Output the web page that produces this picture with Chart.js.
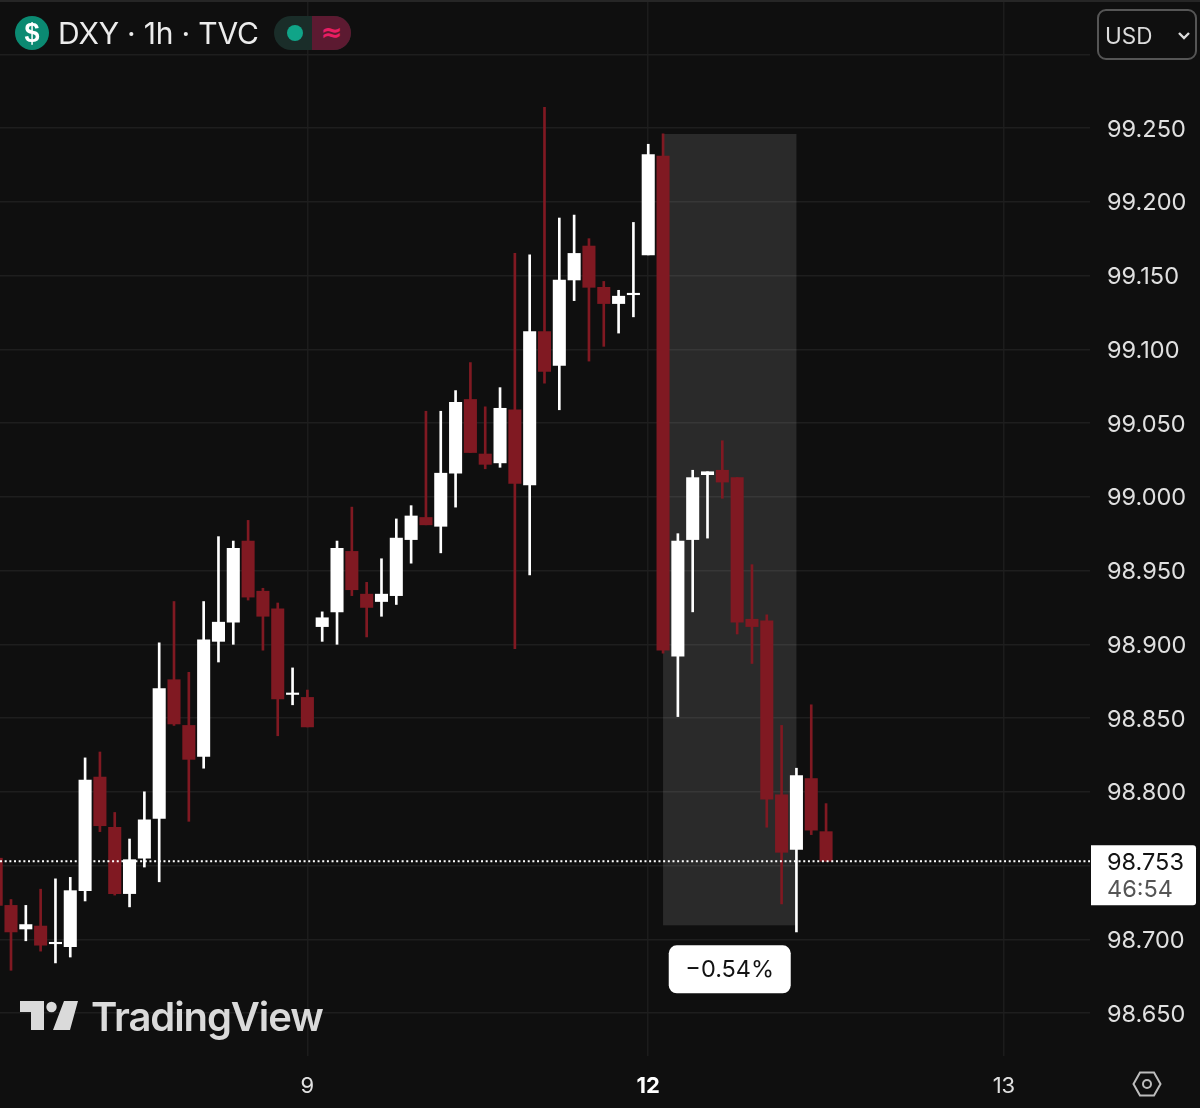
<!DOCTYPE html>
<html>
<head>
<meta charset="utf-8">
<title>DXY 1h TVC</title>
<script src="https://cdn.jsdelivr.net/npm/chart.js@4"></script>
<style>
  html, body { margin: 0; padding: 0; background: #0f0f0f; }
  #wrap { position: relative; width: 1200px; height: 1108px; overflow: hidden; font-family: Inter, sans-serif; }
  #wrap > * { position: absolute; }
  #topline { left: 0; top: 0; width: 1200px; height: 2px; background: #262626; }
  #coin { left: 15px; top: 16px; width: 34px; height: 34px; border-radius: 50%; background: #0b8a72; color: #fff; font: 700 27px/34px "Liberation Sans", sans-serif; text-align: center; }
  #title { left: 58px; top: 15px; font-size: 30px; line-height: 36px; color: #ececec; white-space: nowrap; letter-spacing: -0.2px; }
  #pill { left: 274px; top: 16px; width: 77px; height: 34px; border-radius: 17px; overflow: hidden; background: #1a2d29; }
  #pill .dot { position: absolute; left: 13px; top: 9px; width: 16px; height: 16px; border-radius: 50%; background: #10a488; }
  #pill .red { position: absolute; left: 38px; top: 0; width: 39px; height: 34px; background: #5c1a31; color: #e91e63; font: 700 26px/32px "DejaVu Sans", sans-serif; text-align: center; }
  #usd { left: 1097px; top: 9px; width: 96px; height: 47px; border: 2px solid #555; border-radius: 9px; color: #dcdcdc; font-size: 22.5px; line-height: 49px; text-indent: 6px; }
  #logo { left: 20px; top: 1001px; }
  #brand { left: 91px; top: 992px; font-size: 40px; line-height: 50px; font-weight: 600; color: #dadada; letter-spacing: -1.1px; white-space: nowrap; }
  #gear { left: 1132px; top: 1069px; }
</style>
</head>
<body>
<div id="wrap">
  <canvas id="chart" width="1200" height="1108"></canvas>
  <div id="topline"></div>
  <div id="coin">$</div>
  <div id="title">DXY · 1h · TVC</div>
  <div id="pill"><div class="dot"></div><div class="red">≈</div></div>
  <div id="usd">USD
    <svg width="14" height="10" style="position:absolute;left:78px;top:20px"><path d="M2 2 L7 7 L12 2" fill="none" stroke="#dcdcdc" stroke-width="2.4"/></svg>
  </div>
  <svg id="logo" width="58" height="30"><path d="M0 0H24V29H11V11H0Z M44 0H58L50 29H33Z" fill="#dadada"/><circle cx="31.5" cy="6" r="5.2" fill="#dadada"/></svg>
  <div id="brand">TradingView</div>
  <svg id="gear" width="30" height="30"><path d="M8 3.5H22L28.5 15L22 26.5H8L1.5 15Z" fill="none" stroke="#bdbdbd" stroke-width="2"/><circle cx="15" cy="15" r="4" fill="none" stroke="#bdbdbd" stroke-width="2"/></svg>
</div>
<script>
// one entry per hourly candle
const opens  = [98.755,98.723,98.707,98.709,98.697,98.695,98.733,98.810,98.776,98.731,98.755,98.782,98.876,98.845,98.824,98.902,98.915,98.970,98.936,98.924,98.866,98.864,98.912,98.922,98.963,98.934,98.929,98.933,98.971,98.986,98.980,99.016,99.066,99.029,99.023,99.059,99.008,99.112,99.089,99.147,99.170,99.142,99.131,99.137,99.164,99.231,98.892,98.971,99.015,99.018,99.013,98.917,98.916,98.798,98.761,98.809,98.773];
const highs  = [98.761,98.727,98.723,98.734,98.741,98.742,98.823,98.827,98.786,98.768,98.800,98.901,98.929,98.881,98.929,98.973,98.970,98.984,98.938,98.928,98.884,98.869,98.922,98.970,98.993,98.942,98.958,98.985,98.994,99.058,99.058,99.072,99.091,99.061,99.074,99.165,99.164,99.264,99.189,99.191,99.175,99.146,99.140,99.186,99.239,99.246,98.975,99.018,99.017,99.038,99.013,98.954,98.920,98.845,98.816,98.859,98.792];
const lows   = [98.716,98.679,98.699,98.692,98.684,98.688,98.726,98.773,98.730,98.722,98.749,98.739,98.845,98.780,98.816,98.888,98.900,98.930,98.896,98.838,98.859,98.844,98.902,98.900,98.933,98.905,98.919,98.927,98.955,98.981,98.962,98.993,99.030,99.019,99.020,98.897,98.947,99.077,99.059,99.133,99.092,99.102,99.111,99.122,99.164,98.894,98.851,98.922,98.972,98.999,98.907,98.887,98.776,98.724,98.705,98.771,98.753];
const closes = [98.723,98.705,98.710,98.696,98.698,98.733,98.808,98.777,98.731,98.754,98.781,98.870,98.846,98.822,98.903,98.915,98.965,98.932,98.919,98.863,98.867,98.844,98.918,98.965,98.937,98.925,98.934,98.972,98.987,98.981,99.016,99.064,99.030,99.022,99.060,99.009,99.112,99.085,99.147,99.165,99.142,99.131,99.136,99.138,99.232,98.896,98.970,99.013,99.017,99.010,98.915,98.912,98.795,98.759,98.811,98.774,98.753];

const yTicks = [99.30,99.25,99.20,99.15,99.10,99.05,99.00,98.95,98.90,98.85,98.80,98.75,98.70,98.65];
const xTickSlots = [21, 44, 68];
const xTickNames = ['9', '12', '13'];
const boldDay = '12';

const lastPrice = 98.753;
const countdown = '46:54';
const measureFrom = 45, measureTo = 54;
const measureTop = 99.246, measureBottom = 98.7095;
const measureText = '\u22120.54%';

const UP = '#ffffff', DOWN = '#801922';
const xs = opens.map((_, i) => i);
const candleColor = xs.map(i => closes[i] >= opens[i] ? UP : DOWN);

const overlay = {
  id: 'overlay',
  beforeDatasetsDraw(chart) {
    const { ctx, scales: { x, y } } = chart;
    ctx.save();
    ctx.fillStyle = 'rgba(255,255,255,0.115)';
    const left = x.getPixelForValue(measureFrom), right = x.getPixelForValue(measureTo);
    const top = y.getPixelForValue(measureTop), bottom = y.getPixelForValue(measureBottom);
    ctx.fillRect(left, top, right - left, bottom - top);
    ctx.restore();
  },
  afterDatasetsDraw(chart) {
    const { ctx, chartArea, scales: { x, y } } = chart;
    const py = y.getPixelForValue(lastPrice);
    ctx.save();
    // dotted last price line
    ctx.strokeStyle = '#ffffff';
    ctx.lineWidth = 2;
    ctx.setLineDash([2, 2.67]);
    ctx.beginPath();
    ctx.moveTo(0, py);
    ctx.lineTo(chartArea.right, py);
    ctx.stroke();
    ctx.setLineDash([]);

    // last price tag
    ctx.fillStyle = '#ffffff';
    ctx.beginPath();
    ctx.roundRect(chartArea.right + 1, py - 16, 105, 60, [0, 3, 3, 0]);
    ctx.fill();
    ctx.textAlign = 'left';
    ctx.textBaseline = 'middle';
    ctx.font = '23.5px Inter';
    ctx.fillStyle = '#131313';
    ctx.fillText(lastPrice.toFixed(3), 1107, py + 2);
    ctx.fillStyle = '#555555';
    ctx.fillText(countdown, 1107, py + 29);

    // measure badge
    const cx = (x.getPixelForValue(measureFrom) + x.getPixelForValue(measureTo)) / 2;
    const by = y.getPixelForValue(measureBottom) + 20;
    ctx.fillStyle = '#ffffff';
    ctx.beginPath();
    ctx.roundRect(cx - 61, by, 122, 48, 8);
    ctx.fill();
    ctx.fillStyle = '#131313';
    ctx.textAlign = 'center';
    ctx.fillText(measureText, cx, by + 25);
    ctx.restore();
  }
};

new Chart(document.getElementById('chart'), {
  type: 'bar',
  data: {
    datasets: [
      {
        label: 'wick',
        data: xs.map(i => ({ x: i, y: [lows[i], highs[i]] })),
        backgroundColor: candleColor,
        barThickness: 2,
        grouped: false,
        order: 2
      },
      {
        label: 'body',
        data: xs.map(i => ({ x: i, y: [opens[i], closes[i]] })),
        backgroundColor: candleColor,
        barThickness: 12.4,
        grouped: false,
        order: 1
      }
    ]
  },
  options: {
    responsive: true,
    maintainAspectRatio: false,
    animation: false,
    layout: { padding: 0 },
    plugins: { legend: { display: false }, tooltip: { enabled: false } },
    scales: {
      x: {
        type: 'linear',
        position: 'bottom',
        offset: false,
        min: 0.258,
        max: 73.81,
        afterFit(scale) { scale.height = 52; scale.paddingLeft = 0; scale.paddingRight = 0; },
        afterBuildTicks(scale) { scale.ticks = xTickSlots.map(v => ({ value: v })); },
        border: { display: false },
        grid: { offset: false, color: '#1c1c1c', lineWidth: 1.5, drawTicks: false },
        ticks: {
          autoSkip: false,
          maxRotation: 0,
          padding: 17,
          callback: v => xTickNames[xTickSlots.indexOf(v)],
          color: ctx => xTickNames[ctx.index] === boldDay ? '#ffffff' : '#e0e0e0',
          font: ctx => ({ family: 'Inter', size: 22, weight: xTickNames[ctx.index] === boldDay ? '700' : '400' })
        }
      },
      y: {
        position: 'right',
        min: 98.6209,
        max: 99.3368,
        afterFit(scale) { scale.width = 110; scale.paddingTop = 0; scale.paddingBottom = 0; },
        afterBuildTicks(scale) { scale.ticks = yTicks.map(v => ({ value: v })); },
        border: { display: false },
        grid: { color: '#1e1e1e', lineWidth: 1.5, drawTicks: false },
        ticks: {
          autoSkip: false,
          padding: 17,
          labelOffset: 1.5,
          color: '#e0e0e0',
          font: { family: 'Inter', size: 23.5 },
          callback: v => (v > 99.26 || Math.abs(v - 98.75) < 0.001) ? '' : v.toFixed(3)
        }
      }
    }
  },
  plugins: [overlay]
});
</script>
</body>
</html>
